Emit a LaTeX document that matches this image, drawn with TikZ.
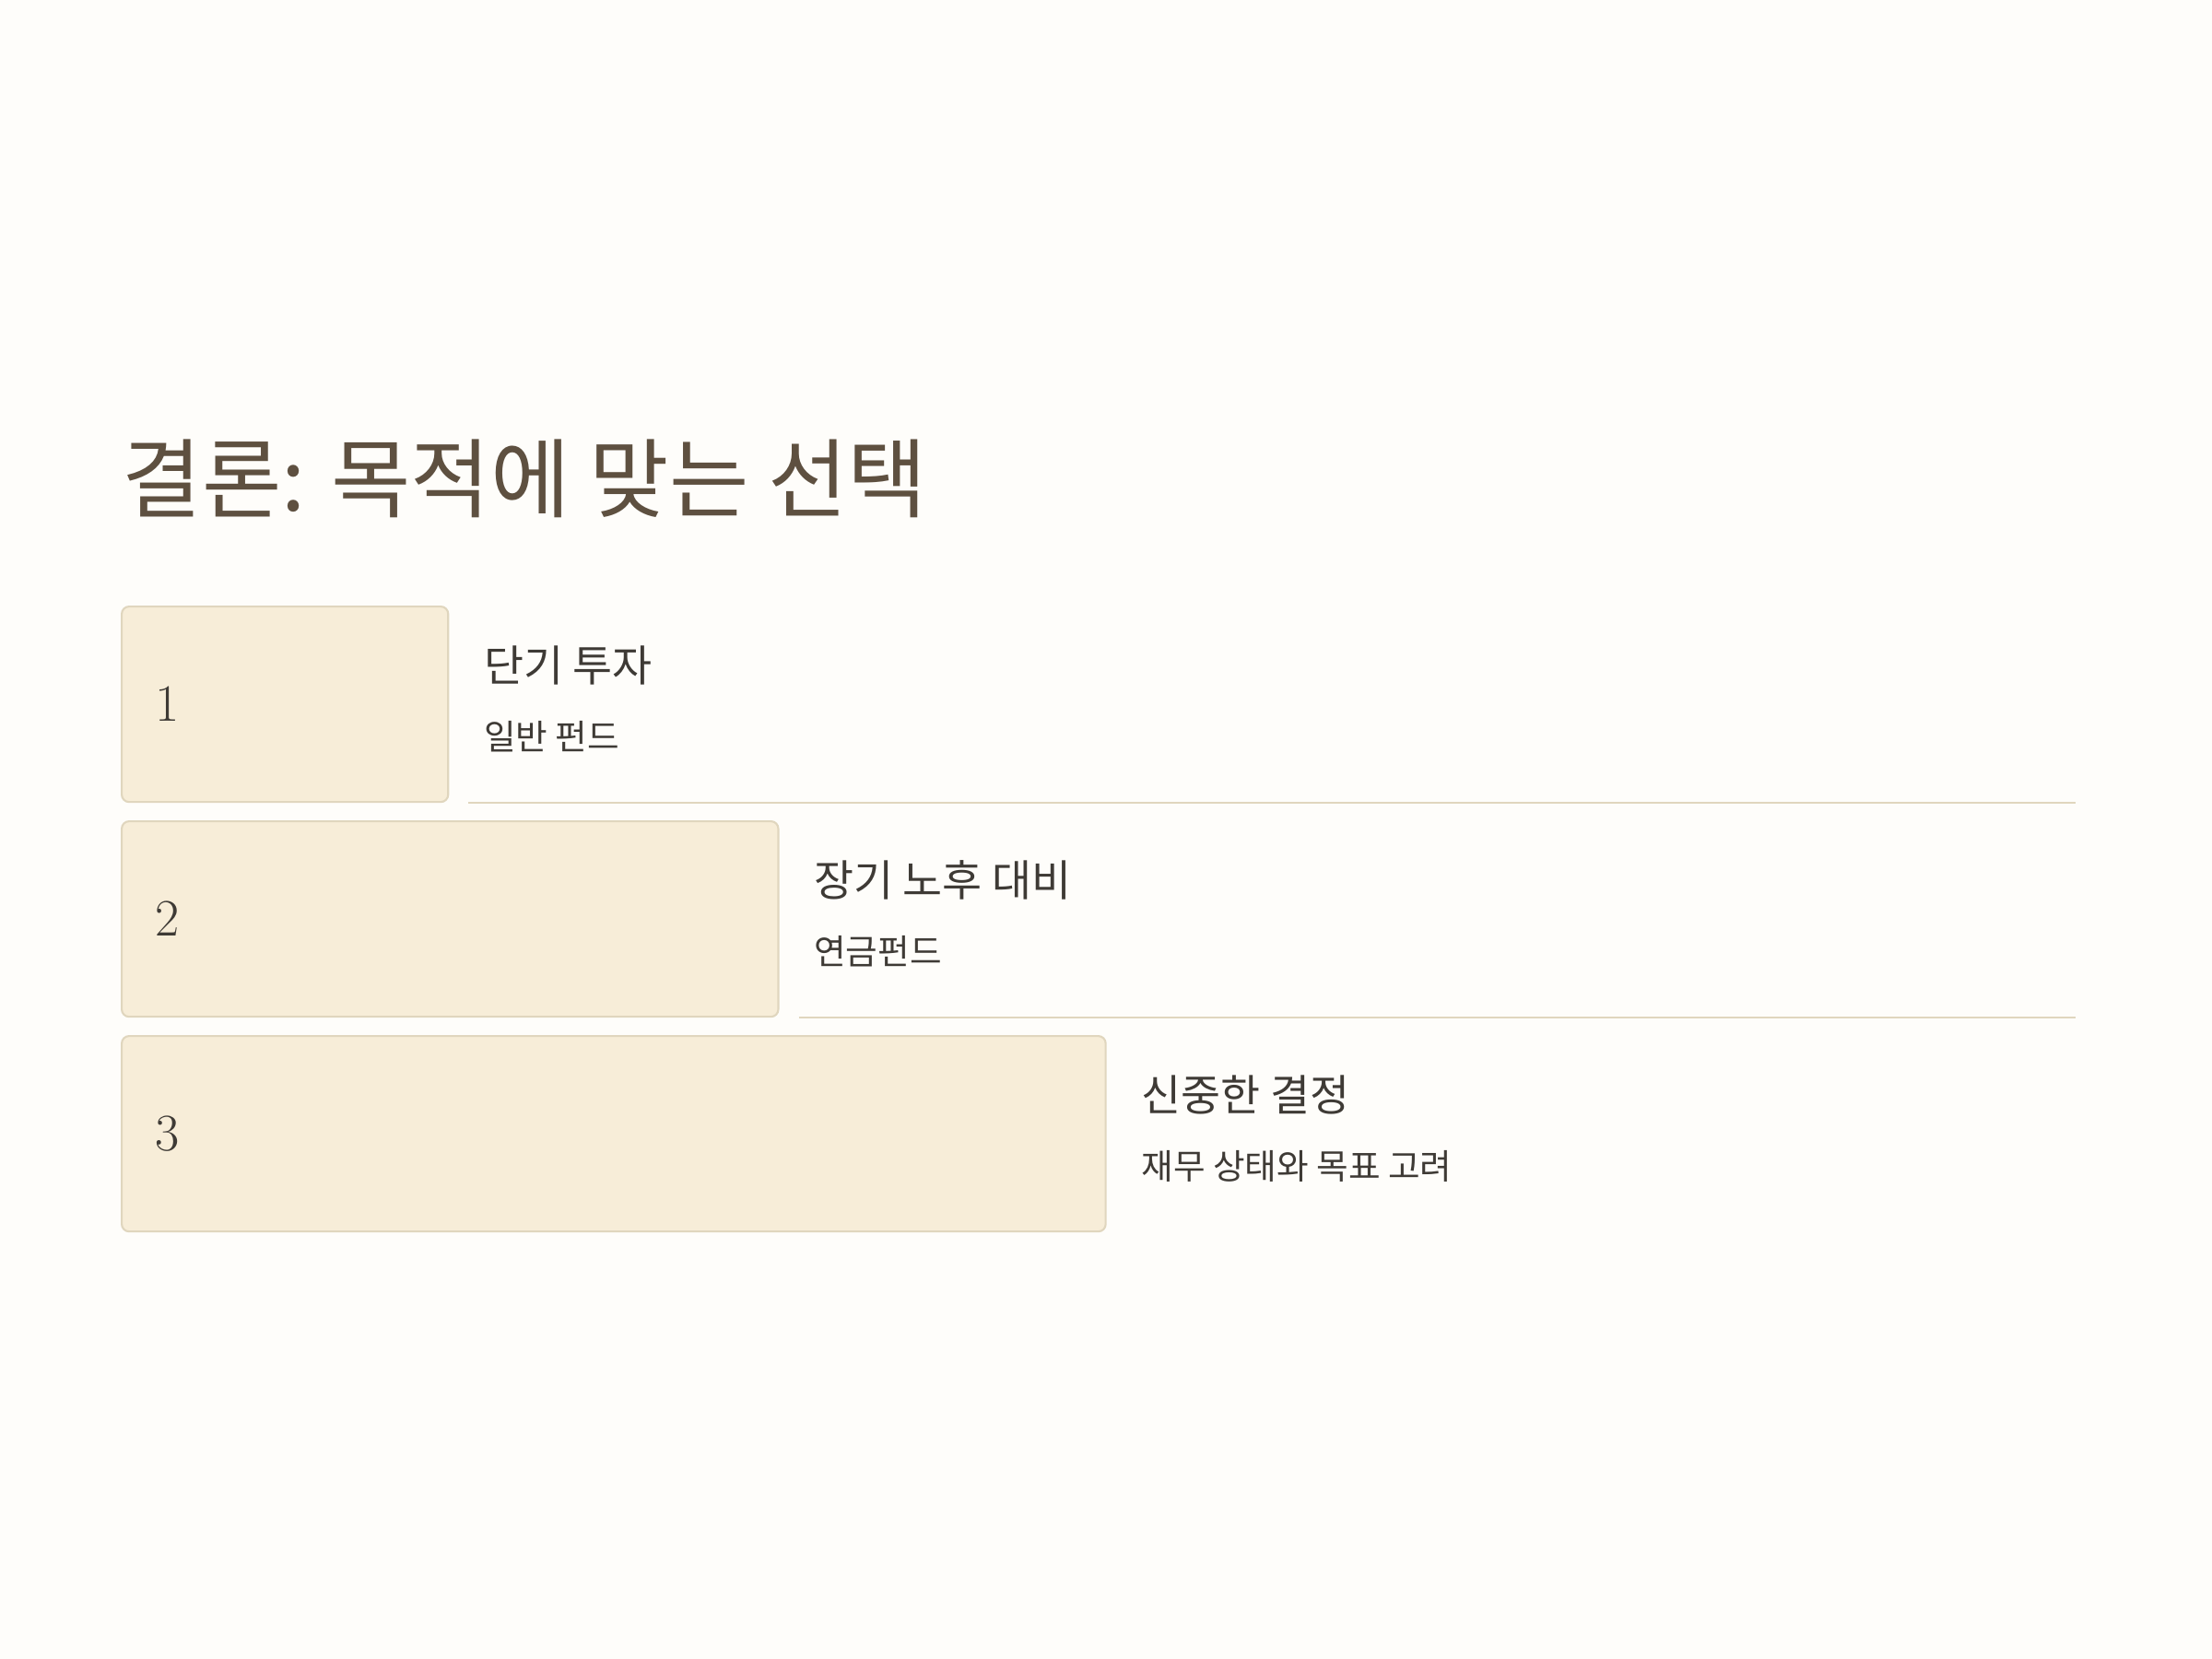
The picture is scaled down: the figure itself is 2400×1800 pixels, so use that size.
\documentclass[tikz,border=0pt]{standalone}
\usepackage{fontspec}
\newfontfamily\krfont{Noto Sans CJK KR}
\definecolor{pagebg}{RGB}{254,253,250}
\definecolor{boxfill}{RGB}{247,237,216}
\definecolor{boxline}{RGB}{224,214,190}
\definecolor{titlec}{RGB}{94,80,64}
\definecolor{textc}{RGB}{62,58,53}
\begin{document}
\begin{tikzpicture}[x=0.01cm,y=-0.01cm,
  stepbox/.style={draw=boxline,line width=0.6pt,fill=boxfill,rounded corners=2.3pt,anchor=north west,minimum height=2.12cm,inner sep=0},
  num/.style={anchor=west,inner sep=0,text=textc,font=\fontsize{16.2}{19}\selectfont},
  head/.style={anchor=west,inner sep=0,text=textc,font=\krfont\fontsize{13.3}{16}\selectfont},
  sub/.style={anchor=west,inner sep=0,text=textc,font=\krfont\fontsize{10.7}{13}\selectfont},
  rule/.style={draw=boxline,line width=0.6pt}]
\fill[pagebg] (0,0) rectangle (2400,1800);
\node[anchor=west,inner sep=0,text=titlec,font=\krfont\fontsize{26.7}{31}\selectfont] (title) at (132,519) {결론: 목적에 맞는 선택};
\coordinate (rend) at (2252,0);
% rows
\node[stepbox,minimum width=3.54cm] (box1) at (131,657) {};
\node[stepbox,minimum width=7.12cm] (box2) at (131,890) {};
\node[stepbox,minimum width=10.67cm] (box3) at (131,1123) {};
\node[num] (n1) at ([xshift=0.37cm]box1.west) {1};
\node[num] (n2) at ([xshift=0.37cm]box2.west) {2};
\node[num] (n3) at ([xshift=0.37cm]box3.west) {3};
\node[head] (h1) at ([xshift=0.37cm,yshift=-0.65cm]box1.north east) {단기 투자};
\node[sub] (s1) at ([xshift=0.37cm,yshift=-1.42cm]box1.north east) {일반 펀드};
\node[head] (h2) at ([xshift=0.37cm,yshift=-0.65cm]box2.north east) {장기 노후 대비};
\node[sub] (s2) at ([xshift=0.37cm,yshift=-1.42cm]box2.north east) {연금펀드};
\node[head] (h3) at ([xshift=0.37cm,yshift=-0.65cm]box3.north east) {신중한 결정};
\node[sub] (s3) at ([xshift=0.37cm,yshift=-1.42cm]box3.north east) {재무 상태와 목표 고려};
\draw[rule] ([xshift=0.21cm]box1.south east) -- (box1.south east -| rend);
\draw[rule] ([xshift=0.21cm]box2.south east) -- (box2.south east -| rend);
\end{tikzpicture}
\end{document}
